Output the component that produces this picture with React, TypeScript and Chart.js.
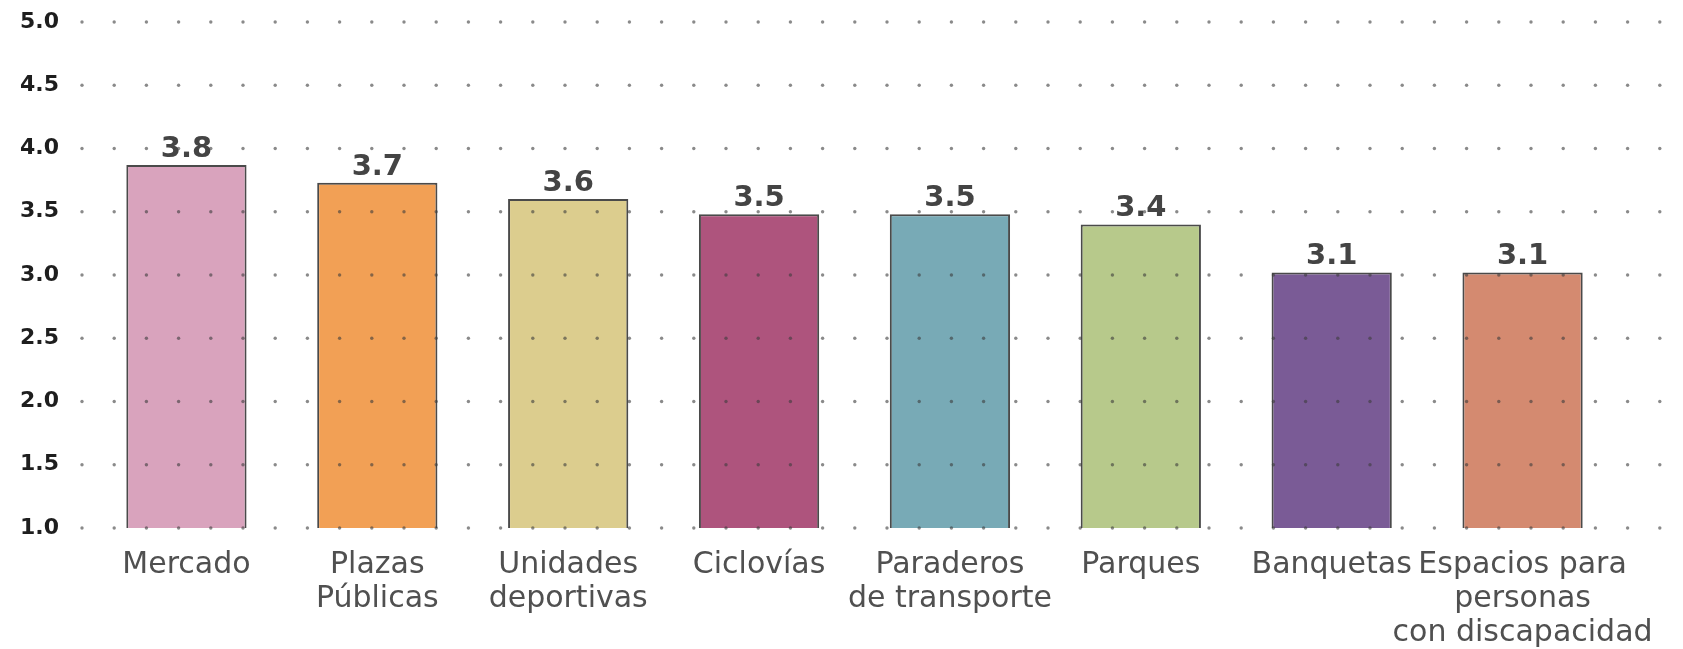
import React, { useEffect, useRef } from "react";
import { Chart, registerables } from "chart.js";

Chart.register(...registerables);

const categories: string[][] = [
  ["Mercado"],
  ["Plazas", "Públicas"],
  ["Unidades", "deportivas"],
  ["Ciclovías"],
  ["Paraderos", "de transporte"],
  ["Parques"],
  ["Banquetas"],
  ["Espacios para", "personas", "con discapacidad"],
];
const barValues: number[] = [3.87, 3.73, 3.6, 3.48, 3.48, 3.4, 3.02, 3.02];
const valueLabels: string[] = ["3.8", "3.7", "3.6", "3.5", "3.5", "3.4", "3.1", "3.1"];
const barColors: string[] = [
  "#d9a3bd",
  "#f2a055",
  "#dccd8e",
  "#ae547d",
  "#78aab6",
  "#b7c98b",
  "#7a5b96",
  "#d48a70",
];
const yMin = 1;
const yMax = 5;
const yStep = 0.5;

const FONT = "'DejaVu Sans', sans-serif";

const dotGridPlugin = {
  id: "dotGrid",
  afterDatasetsDraw(chart: any) {
    const ctx = chart.ctx;
    const yScale = chart.scales.y;
    const area = chart.chartArea;
    const startX = area.left - 9;
    const endX = chart.width - 12;
    const step = 32.2;
    ctx.save();
    ctx.fillStyle = "rgba(60,60,60,0.6)";
    yScale.ticks.forEach((t: any) => {
      const y = yScale.getPixelForValue(t.value);
      for (let x = startX; x <= endX; x += step) {
        ctx.beginPath();
        ctx.arc(x, y, 1.7, 0, Math.PI * 2);
        ctx.fill();
      }
    });
    ctx.restore();
  },
};

const valueLabelPlugin = {
  id: "valueLabels",
  afterDatasetsDraw(chart: any) {
    const ctx = chart.ctx;
    const meta = chart.getDatasetMeta(0);
    ctx.save();
    ctx.font = `bold 29px ${FONT}`;
    ctx.fillStyle = "#444444";
    ctx.textAlign = "center";
    ctx.textBaseline = "alphabetic";
    meta.data.forEach((bar: any, i: number) => {
      ctx.fillText(valueLabels[i], bar.x, bar.y - 8);
    });
    ctx.restore();
  },
};

export default function App() {
  const ref = useRef<HTMLCanvasElement | null>(null);
  useEffect(() => {
    if (!ref.current) return;
    const chart = new Chart(ref.current, {
      type: "bar",
      data: {
        labels: categories,
        datasets: [
          {
            data: barValues,
            backgroundColor: barColors,
            borderColor: "#4a4a4a",
            borderWidth: 2,
            barPercentage: 0.63,
            categoryPercentage: 1,
          },
        ],
      },
      options: {
        animation: false,
        responsive: true,
        maintainAspectRatio: false,
        layout: { padding: { left: 20, right: 65, top: 22, bottom: 0 } },
        plugins: { legend: { display: false }, tooltip: { enabled: false } },
        scales: {
          x: {
            grid: { display: false },
            border: { display: false },
            afterFit(scale: any) {
              scale.height = 121;
            },
            ticks: {
              color: "#505050",
              font: { family: FONT, size: 30, lineHeight: 1.13 },
              padding: 12,
              maxRotation: 0,
              autoSkip: false,
            },
          },
          y: {
            min: yMin,
            max: yMax,
            grid: { display: false },
            border: { display: false },
            afterFit(scale: any) {
              scale.width = 71;
            },
            ticks: {
              stepSize: yStep,
              color: "#1e1e1e",
              crossAlign: "far",
              font: { family: FONT, size: 22, weight: "bold" },
              callback: (v: any) => Number(v).toFixed(1),
            },
          },
        },
      },
      plugins: [dotGridPlugin, valueLabelPlugin],
    });
    return () => chart.destroy();
  }, []);
  return (
    <div style={{ position: "absolute", left: 0, top: 0, width: 1683, height: 649, background: "#fff" }}>
      <canvas ref={ref} />
    </div>
  );
}
